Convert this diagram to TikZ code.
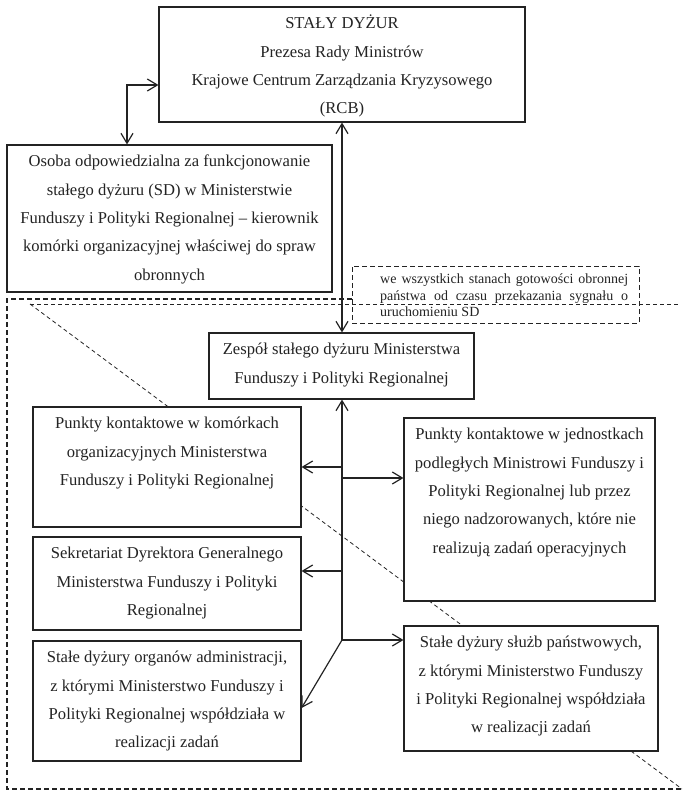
\documentclass[tikz,border=0pt]{standalone}
\usepackage{fontspec}
\setmainfont{Liberation Serif}
\usetikzlibrary{arrows.meta}
\definecolor{lc}{RGB}{35,35,35}
\begin{document}
\begin{tikzpicture}[x=1bp,y=-1bp,
  box/.style={draw=lc, line width=1.1bp, fill=white, inner sep=0pt},
  notebox/.style={draw=lc, line width=0.9bp, dash pattern=on 5bp off 3bp, inner sep=0pt},
  txt/.style={font=\fontsize{16.6bp}{28.4bp}\selectfont, align=center, inner sep=0pt, anchor=north, text=lc},
  ntxt/.style={font=\fontsize{14bp}{16.5bp}\selectfont, align=justify, text width=248bp, inner sep=0pt, anchor=north west, text=lc},
  arr/.style={draw=lc, line width=1.2bp, -{Straight Barb[length=10bp,width=12bp]}},
  darr/.style={draw=lc, line width=1.2bp, {Straight Barb[length=10bp,width=12bp]}-{Straight Barb[length=10bp,width=12bp]}},
  regdash/.style={draw=lc, line width=1.1bp, dash pattern=on 5bp off 3bp},
  thindash/.style={draw=lc, line width=0.8bp, dash pattern=on 4bp off 3bp}]
\useasboundingbox (0,0) rectangle (700,793);

% dashed frame and diagonal (behind boxes)
\draw[regdash] (352,299) -- (7,299) -- (7,789) -- (684,789);
\draw[thindash] (30,304) -- (681,304);
\draw[thindash] (30,304) -- (682,789);

% boxes
\node[box, minimum width=366bp, minimum height=115bp] (top) at (342,64.5) {};
\node[box, minimum width=325bp, minimum height=147bp] (osoba) at (169.5,218.5) {};
\node[notebox, minimum width=287bp, minimum height=57bp] (note) at (495.5,294.5) {};
\node[box, minimum width=265bp, minimum height=66bp] (zesp) at (341.5,366) {};
\node[box, minimum width=268bp, minimum height=120bp] (pk1) at (167,467) {};
\node[box, minimum width=251bp, minimum height=183bp] (pk2) at (529.5,509.5) {};
\node[box, minimum width=268bp, minimum height=93bp] (sekr) at (167,583.5) {};
\node[box, minimum width=268bp, minimum height=120bp] (org) at (167,701) {};
\node[box, minimum width=254bp, minimum height=125bp] (sluzb) at (531,688.5) {};

% texts
\node[txt] (topt) at ([yshift=-7bp]top.north) {\rule{0pt}{15bp}STAŁY DYŻUR\\Prezesa Rady Ministrów\\Krajowe Centrum Zarządzania Kryzysowego\\(RCB)};
\node[txt] (osobat) at ([yshift=-7bp]osoba.north) {\rule{0pt}{15bp}Osoba odpowiedzialna za funkcjonowanie\\stałego dyżuru (SD) w Ministerstwie\\Funduszy i Polityki Regionalnej – kierownik\\komórki organizacyjnej właściwej do spraw\\obronnych};
\node[ntxt] (notet) at (380,272.5) {\rule{0pt}{11bp}we wszystkich stanach gotowości obronnej\linebreak państwa od czasu przekazania sygnału o\linebreak uruchomieniu SD};
\node[txt] (zespt) at ([yshift=-7bp]zesp.north) {\rule{0pt}{15bp}Zespół stałego dyżuru Ministerstwa\\Funduszy i Polityki Regionalnej};
\node[txt] (pk1t) at ([yshift=-7bp]pk1.north) {\rule{0pt}{15bp}Punkty kontaktowe w komórkach\\organizacyjnych Ministerstwa\\Funduszy i Polityki Regionalnej};
\node[txt] (pk2t) at ([yshift=-7bp]pk2.north) {\rule{0pt}{15bp}Punkty kontaktowe w jednostkach\\podległych Ministrowi Funduszy i\\Polityki Regionalnej lub przez\\niego nadzorowanych, które nie\\realizują zadań operacyjnych};
\node[txt] (sekrt) at ([yshift=-7bp]sekr.north) {\rule{0pt}{15bp}Sekretariat Dyrektora Generalnego\\Ministerstwa Funduszy i Polityki\\Regionalnej};
\node[txt] (orgt) at ([yshift=-7bp]org.north) {\rule{0pt}{15bp}Stałe dyżury organów administracji,\\z którymi Ministerstwo Funduszy i\\Polityki Regionalnej współdziała w\\realizacji zadań};
\node[txt] (sluzbt) at ([yshift=-7bp]sluzb.north) {\rule{0pt}{15bp}Stałe dyżury służb państwowych,\\z którymi Ministerstwo Funduszy\\i Polityki Regionalnej współdziała\\w realizacji zadań};

% connectors
\coordinate (e1) at (127,85);
\draw[darr] (e1 |- osoba.north) -- (e1) -- (e1 -| top.west);
\coordinate (v) at (342,0);
\draw[darr] (v |- top.south) -- (v |- zesp.north);
\coordinate (j1) at (342,467);
\coordinate (j2) at (342,478);
\coordinate (j3) at (342,571);
\coordinate (j4) at (342,640);
\coordinate (d) at (0,708);
\draw[arr] (j4) -- (j4 |- zesp.south);
\draw[arr] (j1) -- (j1 -| pk1.east);
\draw[arr] (j2) -- (j2 -| pk2.west);
\draw[arr] (j3) -- (j3 -| sekr.east);
\draw[arr] (j4) -- (j4 -| sluzb.west);
\draw[arr] (j4) -- (d -| org.east);
\end{tikzpicture}
\end{document}
